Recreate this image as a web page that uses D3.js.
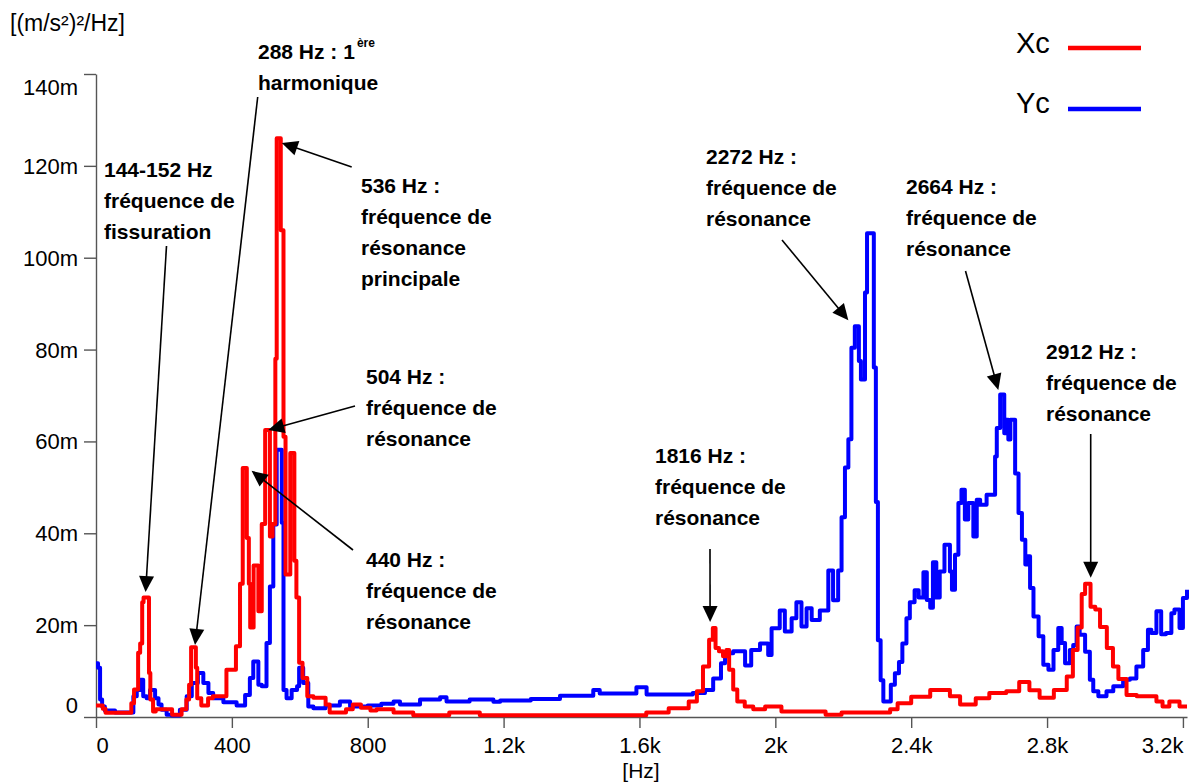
<!DOCTYPE html>
<html>
<head>
<meta charset="utf-8">
<script src="https://cdn.jsdelivr.net/npm/d3@7"></script>
<style>
  body { margin: 0; background: #fff; }
  svg { display: block; font-family: "Liberation Sans", Arial, Helvetica, sans-serif; }
</style>
</head>
<body>
<svg id="chart" width="1192" height="782"></svg>
<script>
// tick values
const xTicks = [0, 400, 800, 1200, 1600, 2000, 2400, 2800, 3200];
const yTicks = [0, 20, 40, 60, 80, 100, 120, 140];

// spectra as steps: [start frequency Hz, PSD in m(m/s²)²/Hz]
const xcSteps = [
  [0, 2.5], [20, 1.8], [28, 0.9], [104, 3], [112, 6], [124, 14], [130, 16], [136, 25], [140, 26],
  [156, 9.6], [160, 3.8], [168, 1.2], [176, 1.7], [224, 0.5], [252, 1.7], [266, 3.8], [274, 7],
  [280, 15.2], [294, 10.7], [298, 4.1], [310, 2.5], [330, 4.1], [344, 4.5], [384, 10.3], [412, 15.4],
  [424, 29], [432, 54.2], [444, 39], [450, 29], [454, 19.5], [464, 33], [478, 23], [488, 42],
  [498, 62.5], [512, 39.3], [520, 42], [528, 78], [532, 126], [544, 106], [552, 61], [558, 31],
  [572, 57.5], [584, 34], [590, 26], [598, 11.8], [608, 8.5], [622, 4.5], [640, 4.2], [676, 2.7],
  [688, 1], [736, 1.7], [756, 2.7], [780, 2], [808, 1.4], [826, 1.7], [876, 1], [934, 0.4],
  [1040, 1], [1130, 0.4], [1620, 1], [1686, 1.9], [1745, 3.4], [1769, 5.6], [1787, 11], [1805, 16.8],
  [1816, 19.4], [1824, 15], [1834, 14.3], [1846, 13.2], [1856, 14.6], [1864, 10.3], [1876, 6],
  [1888, 3.4], [1910, 2.3], [1935, 1.7], [1970, 2.3], [2018, 1.2], [2148, 0.5], [2195, 1],
  [2338, 1.7], [2360, 3], [2400, 4.4], [2456, 5.9], [2514, 4.5], [2544, 2.7], [2590, 4.1],
  [2630, 5.2], [2680, 5.6], [2718, 7.6], [2748, 5.8], [2778, 4.2], [2820, 5.9], [2858, 8.8],
  [2876, 14.6], [2890, 19.5], [2902, 26.8], [2912, 29], [2928, 24], [2942, 23.4], [2956, 19.6],
  [2976, 15], [2994, 11], [3010, 8.3], [3034, 4.8], [3064, 4.5], [3122, 3.4], [3140, 2.3],
  [3160, 3.4], [3190, 2.3], [3212, 2.3]
];

const ycSteps = [
  [0, 11.7], [6, 10.7], [12, 3.8], [18, 2.3], [26, 1.4], [56, 1.0], [110, 4.5], [120, 5.9], [130, 8.1],
  [139, 4.5], [149, 4.1], [159, 5.9], [174, 4.1], [184, 2.7], [193, 1.6], [208, 0.5], [223, 0.3],
  [247, 1.6], [267, 4.5], [282, 7.4], [300, 9.6], [316, 7.4], [331, 5.2], [345, 4.1], [375, 3.2],
  [414, 2.5], [439, 4.8], [453, 8.5], [463, 12.1], [478, 7], [488, 6.7], [502, 16.1], [512, 28.4],
  [522, 41.9], [532, 58.2], [547, 42.3], [552, 5.9], [561, 4.1], [576, 5.9], [592, 6.7], [598, 10.7],
  [610, 7.4], [625, 2.3], [640, 1.9], [676, 2.5], [718, 3.4], [748, 2.3], [800, 2.5], [840, 2.9],
  [876, 3.4], [895, 2.7], [954, 3.8], [1013, 4.3], [1032, 3.4], [1100, 3.8], [1170, 3.3], [1190, 3.6],
  [1280, 3.9], [1366, 4.6], [1464, 5.9], [1483, 5.1], [1591, 6.5], [1621, 4.9], [1757, 5.2],
  [1793, 5.9], [1817, 8.4], [1840, 11.7], [1852, 13.9], [1876, 14.3], [1911, 11.2], [1929, 14.6],
  [1955, 16], [1979, 13.5], [1989, 19.3], [2013, 23.2], [2028, 18.6], [2048, 21.5], [2062, 25],
  [2077, 19.7], [2092, 23.7], [2107, 21.1], [2131, 23.2], [2156, 31.9], [2170, 25.4], [2185, 31.9],
  [2195, 43.5], [2205, 54.3], [2215, 60.5], [2224, 80.4], [2234, 85.1], [2246, 77.5], [2252, 73.5],
  [2264, 92.4], [2270, 105.3], [2290, 76.1], [2296, 46.8], [2302, 16.7], [2310, 8], [2318, 3.4],
  [2340, 7], [2352, 9.5], [2364, 12], [2374, 16], [2386, 21.5], [2396, 25], [2410, 27.6], [2422, 26],
  [2436, 31.5], [2446, 25.5], [2456, 23.8], [2464, 33.7], [2474, 26], [2484, 31.7], [2498, 37.5],
  [2514, 31.7], [2520, 27.7], [2529, 35.3], [2539, 46.6], [2548, 49.5], [2558, 43], [2568, 46.6],
  [2583, 39.3], [2593, 47.3], [2603, 46.2], [2622, 48.4], [2647, 56.7], [2652, 62.9], [2662, 70.2],
  [2674, 61.8], [2680, 64.7], [2686, 60.4], [2692, 64.7], [2706, 53], [2716, 44.4], [2726, 38.6],
  [2736, 33.2], [2741, 35], [2750, 28.1], [2760, 21.9], [2775, 17.6], [2789, 11.4], [2804, 10.3],
  [2819, 14.6], [2833, 19.4], [2843, 16.1], [2853, 11.7], [2867, 14.6], [2877, 15.7], [2887, 19.7],
  [2896, 17.9], [2912, 14.2], [2926, 8.1], [2936, 5.6], [2951, 4.5], [2975, 5.6], [2995, 6.7],
  [3024, 8.1], [3044, 8.4], [3063, 11], [3083, 14.6], [3097, 19], [3107, 18.3], [3122, 23],
  [3136, 18], [3150, 18.3], [3166, 22.6], [3175, 23.4], [3190, 19.4], [3200, 25.9], [3212, 27.7]
];

const seriesNames = ["Yc", "Xc"];
const seriesColors = { Xc: "#ff0000", Yc: "#0000ff" };
const seriesData = { Xc: xcSteps, Yc: ycSteps };

// annotation texts; tip is in data units (Hz, m), tail and text in pixels
const annotations = [
  { lines: ["144-152 Hz", "fréquence de", "fissuration"], at: [104, 177], tail: [166.5, 246], tip: [146, 27.2] },
  { lines: [["288 Hz : 1", "ère"], "harmonique"], at: [258, 59], tail: [257.7, 97], tip: [291.5, 15.7] },
  { lines: ["536 Hz :", "fréquence de", "résonance", "principale"], at: [361, 193], tail: [351.7, 167], tip: [547, 125] },
  { lines: ["504 Hz :", "fréquence de", "résonance"], at: [366, 384], tail: [355, 406], tip: [507, 62.5] },
  { lines: ["440 Hz :", "fréquence de", "résonance"], at: [366, 567], tail: [353, 550], tip: [458, 53.6] },
  { lines: ["1816 Hz :", "fréquence de", "résonance"], at: [655, 463], tail: [710, 549], tip: [1808, 20.7] },
  { lines: ["2272 Hz :", "fréquence de", "résonance"], at: [706, 164], tail: [782, 240], tip: [2215, 86.4] },
  { lines: ["2664 Hz :", "fréquence de", "résonance"], at: [906, 194], tail: [965.5, 271], tip: [2656.5, 71.2] },
  { lines: ["2912 Hz :", "fréquence de", "résonance"], at: [1046, 359], tail: [1090.7, 434], tip: [2928.5, 30.3] }
];

const svg = d3.select("#chart");

const x = d3.scaleLinear().domain([0, 3212]).range([96, 1187]);
const y = d3.scaleLinear().domain([0, 140]).range([717, 74]);

// axes
const axisColor = "#555";
const gx = svg.append("g")
  .attr("transform", `translate(0,${y(0)})`)
  .call(d3.axisBottom(x).tickValues(xTicks).tickFormat(d3.format("~s"))
    .tickSize(11).tickSizeOuter(0).tickPadding(9));
gx.selectAll("text")
  .attr("font-size", 22)
  .attr("font-family", "Liberation Sans, Arial, sans-serif")
  .attr("fill", "#000")
  .attr("text-anchor", (d, i) => i === 0 ? "start" : i === xTicks.length - 1 ? "end" : "middle");

const gy = svg.append("g")
  .attr("transform", `translate(${x(0)},0)`)
  .call(d3.axisLeft(y).tickValues(yTicks).tickFormat((d) => d === 0 ? "0" : d + "m")
    .tickSize(12).tickSizeOuter(0).tickPadding(6));
gy.selectAll("text")
  .attr("font-size", 22)
  .attr("font-family", "Liberation Sans, Arial, sans-serif")
  .attr("fill", "#000")
  .attr("dy", (d) => d === 140 ? "0.92em" : d === 0 ? "-0.22em" : "0.34em");

svg.selectAll(".domain, .tick line")
  .attr("stroke", axisColor)
  .attr("stroke-width", 1.4);

// axis titles
svg.append("text")
  .attr("x", 10).attr("y", 31)
  .attr("font-size", 23)
  .text("[(m/s²)²/Hz]");

svg.append("text")
  .attr("x", 641).attr("y", 778)
  .attr("text-anchor", "middle")
  .attr("font-size", 21)
  .text("[Hz]");

// series
const line = d3.line()
  .x((d) => x(d[0]))
  .y((d) => y(d[1]))
  .curve(d3.curveStepAfter);

svg.append("g")
  .selectAll("path")
  .data(seriesNames)
  .join("path")
  .attr("d", (name) => line(seriesData[name]))
  .attr("fill", "none")
  .attr("stroke", (name) => seriesColors[name])
  .attr("stroke-width", 4)
  .attr("stroke-linejoin", "round");

// legend
const legend = [
  { name: "Xc", ty: 53, ly: 48 },
  { name: "Yc", ty: 113, ly: 109 }
];
const lg = svg.append("g");
legend.forEach((l) => {
  lg.append("text")
    .attr("x", 1016).attr("y", l.ty)
    .attr("font-size", 29)
    .text(l.name);
  lg.append("line")
    .attr("x1", 1068).attr("x2", 1141)
    .attr("y1", l.ly).attr("y2", l.ly)
    .attr("stroke", seriesColors[l.name])
    .attr("stroke-width", 4.5);
});

// annotations
const ann = svg.append("g");
annotations.forEach((a) => {
  const t = ann.append("text")
    .attr("font-size", 21)
    .attr("font-weight", "bold")
    .attr("fill", "#000");
  a.lines.forEach((ln, i) => {
    const yy = a.at[1] + i * 31;
    if (Array.isArray(ln)) {
      t.append("tspan").attr("x", a.at[0]).attr("y", yy).text(ln[0]);
      t.append("tspan").attr("dx", 2).attr("y", yy - 12).attr("font-size", 12).text(ln[1]);
    } else {
      t.append("tspan").attr("x", a.at[0]).attr("y", yy).text(ln);
    }
  });

  const tx = x(a.tip[0]), ty = y(a.tip[1]);
  const dx = tx - a.tail[0], dy = ty - a.tail[1];
  const len = Math.hypot(dx, dy);
  const ux = dx / len, uy = dy / len;
  const head = 16, half = 7.5;
  const bx = tx - ux * head, by = ty - uy * head;

  ann.append("line")
    .attr("x1", a.tail[0]).attr("y1", a.tail[1])
    .attr("x2", bx + ux * 2).attr("y2", by + uy * 2)
    .attr("stroke", "#000")
    .attr("stroke-width", 1.6);

  ann.append("polygon")
    .attr("points", [
      [tx, ty],
      [bx - uy * half, by + ux * half],
      [bx + uy * half, by - ux * half]
    ].map((p) => p.join(",")).join(" "))
    .attr("fill", "#000");
});
</script>
</body>
</html>
